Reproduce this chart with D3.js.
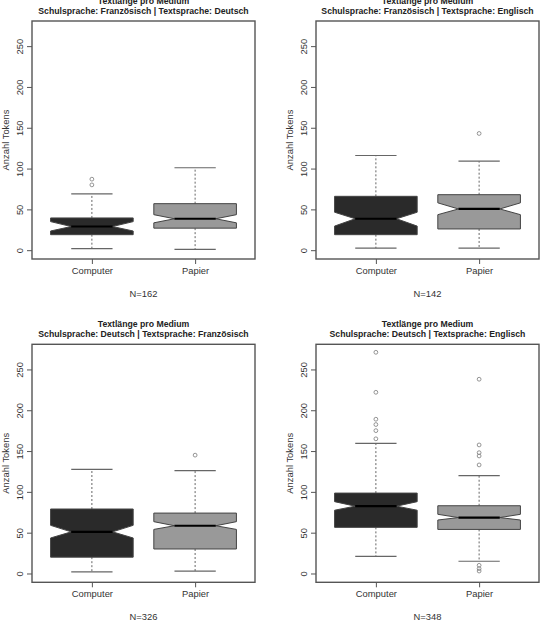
<!DOCTYPE html>
<html>
<head>
<meta charset="utf-8">
<script src="https://cdn.jsdelivr.net/npm/d3@7"></script>
<style>
  body { margin: 0; background: #fff; }
  svg { display: block; font-family: "Liberation Sans", Arial, sans-serif; }
</style>
</head>
<body>
<div id="chartDiv"></div>
<script>
// data, one entry per panel, [Computer, Papier] inside
var categories = ["Computer", "Papier"];
var titles = ["Textlänge pro Medium", "Textlänge pro Medium", "Textlänge pro Medium", "Textlänge pro Medium"];
var subtitles = [
  "Schulsprache: Französisch | Textsprache: Deutsch",
  "Schulsprache: Französisch | Textsprache: Englisch",
  "Schulsprache: Deutsch | Textsprache: Französisch",
  "Schulsprache: Deutsch | Textsprache: Englisch"
];
var nLabels = ["N=162", "N=142", "N=326", "N=348"];
var yTicks = [0, 50, 100, 150, 200, 250];

var whiskerLow  = [[2, 1],     [2.5, 2.5], [2, 3],     [21, 15]];
var q1          = [[19, 27],   [19, 26],   [20, 30],   [56.5, 54]];
var median      = [[29, 38.5], [38.5, 50.5], [51, 58.5], [82.5, 68.5]];
var q3          = [[39.5, 57], [66, 68],   [79, 74],   [98.5, 83]];
var whiskerHigh = [[69, 101],  [116, 109], [127.5, 126], [159.5, 120]];
var notchLow    = [[23.5, 33.5], [29.5, 43.5], [43.5, 54], [77.5, 65.5]];
var notchHigh   = [[35, 43.5], [46.5, 58], [59, 63.5], [88, 72.5]];
var outliers = [
  [[80, 87], []],
  [[], [143]],
  [[], [145]],
  [[165, 175, 182.5, 189, 222, 271], [133, 144, 148, 157.5, 238, 10, 6, 3]]
];

var boxFill = ["#2a2a2a", "#999999"];

var svg = d3.select("#chartDiv")
  .append("svg")
  .attr("width", 549)
  .attr("height", 622);

// panel offsets (the picture is a 2x2 grid of R style boxplots)
var panelX = [0, 284, 0, 284];
var panelY = [0, 0, 323.3, 323.3];

for (var p = 0; p < 4; p++) {
  drawPanel(p);
}

function drawPanel(p) {
  var left = 32, right = 255, top = 21, bottom = 259;
  var g = svg.append("g")
    .attr("transform", "translate(" + panelX[p] + "," + panelY[p] + ")");

  var x = d3.scaleLinear().domain([0.42, 2.58]).range([left, right]);
  var y = d3.scaleLinear().domain([-10.8, 280.8]).range([bottom, top]);
  var midX = (left + right) / 2;

  // titles
  g.append("text")
    .attr("x", midX).attr("y", 4)
    .attr("text-anchor", "middle")
    .style("font-size", "8.7px").style("font-weight", "bold").style("fill", "#222")
    .text(titles[p]);
  g.append("text")
    .attr("x", midX).attr("y", 13.8)
    .attr("text-anchor", "middle")
    .style("font-size", "8.7px").style("font-weight", "bold").style("fill", "#222")
    .text(subtitles[p]);

  // boxes
  categories.forEach(function(c, i) {
    var cx = x(i + 1);
    var hw = x(0.4) - x(0);
    var nw = hw * 0.5;
    var cap = x(0.2) - x(0);

    // whiskers
    g.append("line")
      .attr("x1", cx).attr("x2", cx)
      .attr("y1", y(q3[p][i])).attr("y2", y(whiskerHigh[p][i]))
      .attr("stroke", "#666").attr("stroke-dasharray", "2,2");
    g.append("line")
      .attr("x1", cx).attr("x2", cx)
      .attr("y1", y(q1[p][i])).attr("y2", y(whiskerLow[p][i]))
      .attr("stroke", "#666").attr("stroke-dasharray", "2,2");
    [whiskerLow[p][i], whiskerHigh[p][i]].forEach(function(v) {
      g.append("line")
        .attr("x1", cx - cap).attr("x2", cx + cap)
        .attr("y1", y(v)).attr("y2", y(v))
        .attr("stroke", "#666").attr("stroke-width", 1.2);
    });

    // notched box
    var pts = [
      [cx - hw, y(q1[p][i])],
      [cx - hw, y(notchLow[p][i])],
      [cx - nw, y(median[p][i])],
      [cx - hw, y(notchHigh[p][i])],
      [cx - hw, y(q3[p][i])],
      [cx + hw, y(q3[p][i])],
      [cx + hw, y(notchHigh[p][i])],
      [cx + nw, y(median[p][i])],
      [cx + hw, y(notchLow[p][i])],
      [cx + hw, y(q1[p][i])]
    ];
    g.append("path")
      .attr("d", d3.line()(pts) + "Z")
      .attr("fill", boxFill[i])
      .attr("stroke", "#444").attr("stroke-width", 1);

    // median
    g.append("line")
      .attr("x1", cx - nw).attr("x2", cx + nw)
      .attr("y1", y(median[p][i])).attr("y2", y(median[p][i]))
      .attr("stroke", "#000").attr("stroke-width", 2.2);

    // outliers
    g.selectAll(null)
      .data(outliers[p][i])
      .enter().append("circle")
      .attr("cx", cx).attr("cy", function(d) { return y(d); })
      .attr("r", 1.9)
      .attr("fill", "none").attr("stroke", "#888").attr("stroke-width", 0.9);
  });

  // frame
  g.append("rect")
    .attr("x", left).attr("y", top)
    .attr("width", right - left).attr("height", bottom - top)
    .attr("fill", "none").attr("stroke", "#555").attr("stroke-width", 1.4);

  // y axis
  var yAxis = g.append("g")
    .attr("transform", "translate(" + left + ",0)")
    .call(d3.axisLeft(y).tickValues(yTicks).tickSize(5).tickSizeOuter(0).tickFormat(d3.format("d")));
  yAxis.select(".domain").remove();
  yAxis.selectAll("line").attr("stroke", "#555");
  yAxis.selectAll("text")
    .attr("x", 0).attr("y", 0).attr("dy", null)
    .attr("transform", "translate(-9,0) rotate(-90)")
    .attr("text-anchor", "middle")
    .style("font-size", "9.4px").style("font-family", "Liberation Sans, Arial, sans-serif")
    .style("fill", "#333");

  // x axis
  var xAxis = g.append("g")
    .attr("transform", "translate(0," + bottom + ")")
    .call(d3.axisBottom(x).tickValues([1, 2]).tickSize(5).tickSizeOuter(0)
      .tickFormat(function(d) { return categories[d - 1]; }));
  xAxis.select(".domain").remove();
  xAxis.selectAll("line").attr("stroke", "#555");
  xAxis.selectAll("text")
    .attr("y", 14.5).attr("dy", null)
    .style("font-size", "9.4px").style("font-family", "Liberation Sans, Arial, sans-serif")
    .style("fill", "#333");

  // N label
  g.append("text")
    .attr("x", midX).attr("y", 296.5)
    .attr("text-anchor", "middle")
    .style("font-size", "9.4px").style("fill", "#333")
    .text(nLabels[p]);

  // y label
  g.append("text")
    .attr("transform", "translate(8.5," + ((top + bottom) / 2) + ") rotate(-90)")
    .attr("text-anchor", "middle")
    .style("font-size", "9.4px").style("fill", "#333")
    .text("Anzahl Tokens");
}
</script>
</body>
</html>
